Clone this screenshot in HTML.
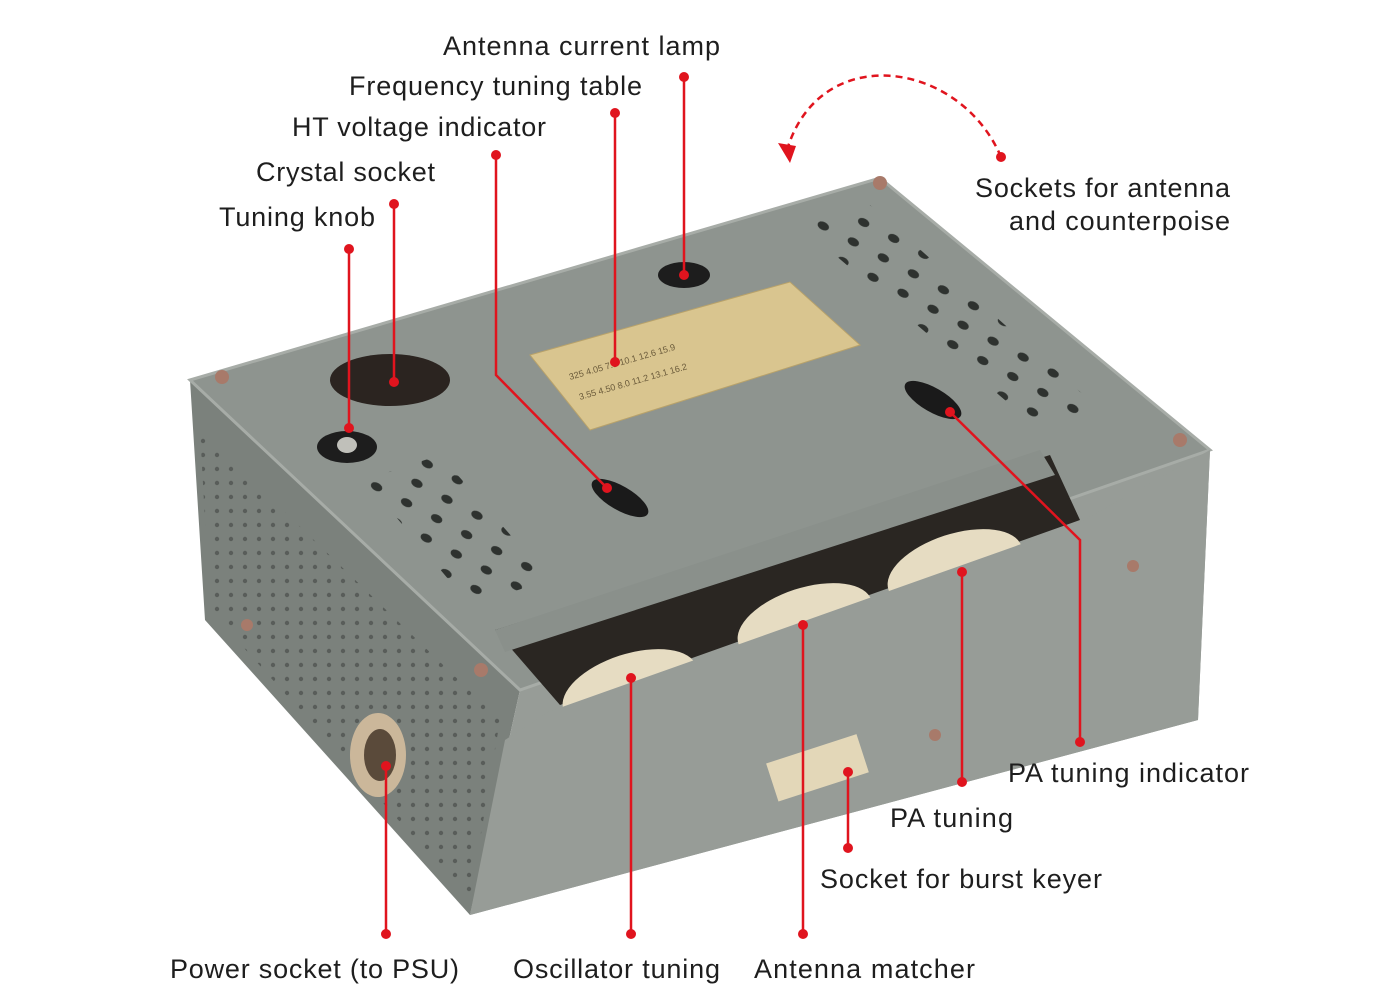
<!DOCTYPE html>
<html><head><meta charset="utf-8"><style>
html,body{margin:0;padding:0;background:#fff;}
svg{display:block;}
text{font-family:"Liberation Sans",sans-serif;font-size:27px;fill:#1e1e1e;}
</style></head><body>
<svg width="1399" height="1005" viewBox="0 0 1399 1005" xmlns="http://www.w3.org/2000/svg">
<defs>
<pattern id="holes" width="14" height="14" patternUnits="userSpaceOnUse"><circle cx="7" cy="7" r="2.2" fill="#4a4e4b"/></pattern>
<pattern id="vent" width="34" height="22" patternUnits="userSpaceOnUse" patternTransform="rotate(28)"><ellipse cx="17" cy="11" rx="6" ry="4" fill="#2e322f"/></pattern>
</defs>
<!-- box faces -->
<polygon points="190,380 520,690 470,915 205,620" fill="#7b817c"/>
<polygon points="200,430 500,720 470,900 210,610" fill="url(#holes)" opacity="0.7"/>
<polygon points="520,690 1210,450 1198,720 470,915" fill="#979c97"/>
<polygon points="190,380 880,178 1210,450 520,690" fill="#8e948f"/>
<polygon points="190,380 880,178 1210,450 520,690" fill="none" stroke="#a7aca7" stroke-width="3"/>
<!-- vents -->
<polygon points="800,225 870,205 1095,405 1040,430" fill="url(#vent)"/>
<polygon points="365,480 440,455 550,580 470,605" fill="url(#vent)"/>
<!-- dial slot -->
<polygon points="495,630 1050,455 1080,520 560,705" fill="#2a2622"/>
<ellipse cx="630" cy="688" rx="70" ry="34" fill="#e6dcc2" transform="rotate(-18 630 688)"/>
<ellipse cx="805" cy="622" rx="70" ry="34" fill="#e6dcc2" transform="rotate(-18 805 622)"/>
<ellipse cx="955" cy="568" rx="70" ry="34" fill="#e6dcc2" transform="rotate(-18 955 568)"/>
<polygon points="495,630 1040,450 1055,475 505,652" fill="#8a908b"/>
<!-- front lip -->
<polygon points="548,712 1075,525 1210,450 1198,720 470,915 505,740" fill="#979c97"/>
<!-- plate -->
<polygon points="530,355 790,282 860,345 590,430" fill="#d9c58f" stroke="#b8a26a"/>
<text x="570" y="380" style="font-size:9px;fill:#6a5a3a" transform="rotate(-16 570 380)">325 4.05 7.5 10.1 12.6 15.9</text>
<text x="580" y="400" style="font-size:9px;fill:#6a5a3a" transform="rotate(-16 580 400)">3.55 4.50 8.0 11.2 13.1 16.2</text>
<!-- holes / sockets -->
<ellipse cx="684" cy="275" rx="26" ry="13" fill="#1d1d1d"/>
<ellipse cx="390" cy="380" rx="60" ry="26" fill="#2b2420"/>
<ellipse cx="347" cy="447" rx="30" ry="16" fill="#1d1d1d"/>
<ellipse cx="347" cy="445" rx="10" ry="8" fill="#c0c0ba"/>
<ellipse cx="620" cy="498" rx="32" ry="12" fill="#1a1a1a" transform="rotate(30 620 498)"/>
<ellipse cx="933" cy="400" rx="32" ry="12" fill="#1a1a1a" transform="rotate(30 933 400)"/>
<rect x="770" y="748" width="95" height="40" fill="#e3d7b8" transform="rotate(-18 817 768)"/>
<ellipse cx="378" cy="755" rx="28" ry="42" fill="#cbb79a"/>
<ellipse cx="380" cy="755" rx="16" ry="26" fill="#5a4a3a"/>
<g fill="#a87a6a"><circle cx="222" cy="377" r="7"/><circle cx="880" cy="183" r="7"/><circle cx="1180" cy="440" r="7"/><circle cx="481" cy="670" r="7"/><circle cx="935" cy="735" r="6"/><circle cx="1133" cy="566" r="6"/><circle cx="247" cy="625" r="6"/></g>
<!-- red connectors -->
<g stroke="#e0141e" stroke-width="2.5" fill="none">
<path d="M684,77 V275"/><path d="M615,113 V362"/>
<path d="M496,155 V375 L607,488"/><path d="M394,204 V382"/>
<path d="M349,249 V428"/>
<path d="M950,412 L1080,540 V742"/><path d="M962,572 V782"/>
<path d="M848,772 V848"/><path d="M803,625 V934"/>
<path d="M631,678 V934"/><path d="M386,766 V934"/>
<path d="M1001,157 C960,60 820,40 787,150" stroke-dasharray="7,5"/>
</g>
<polygon points="778,143 796,146 790,163" fill="#e0141e"/>
<g fill="#e0141e">
<circle cx="684" cy="77" r="5"/><circle cx="684" cy="275" r="5"/>
<circle cx="615" cy="113" r="5"/><circle cx="615" cy="362" r="5"/>
<circle cx="496" cy="155" r="5"/><circle cx="607" cy="488" r="5"/>
<circle cx="394" cy="204" r="5"/><circle cx="394" cy="382" r="5"/>
<circle cx="349" cy="249" r="5"/><circle cx="349" cy="428" r="5"/>
<circle cx="1001" cy="157" r="5"/>
<circle cx="950" cy="412" r="5"/><circle cx="1080" cy="742" r="5"/>
<circle cx="962" cy="572" r="5"/><circle cx="962" cy="782" r="5"/>
<circle cx="848" cy="772" r="5"/><circle cx="848" cy="848" r="5"/>
<circle cx="803" cy="625" r="5"/><circle cx="803" cy="934" r="5"/>
<circle cx="631" cy="678" r="5"/><circle cx="631" cy="934" r="5"/>
<circle cx="386" cy="766" r="5"/><circle cx="386" cy="934" r="5"/>
</g>
<!-- labels -->
<text x="443" y="55" textLength="277">Antenna current lamp</text>
<text x="349" y="95" textLength="293">Frequency tuning table</text>
<text x="292" y="136" textLength="254">HT voltage indicator</text>
<text x="256" y="181" textLength="179">Crystal socket</text>
<text x="219" y="226" textLength="156">Tuning knob</text>
<text x="975" y="197" textLength="255">Sockets for antenna</text>
<text x="1009" y="230" textLength="221">and counterpoise</text>
<text x="1008" y="782" textLength="241">PA tuning indicator</text>
<text x="890" y="827" textLength="123">PA tuning</text>
<text x="820" y="888" textLength="282">Socket for burst keyer</text>
<text x="170" y="978" textLength="289">Power socket (to PSU)</text>
<text x="513" y="978" textLength="207">Oscillator tuning</text>
<text x="754" y="978" textLength="221">Antenna matcher</text>
</svg>
</body></html>
